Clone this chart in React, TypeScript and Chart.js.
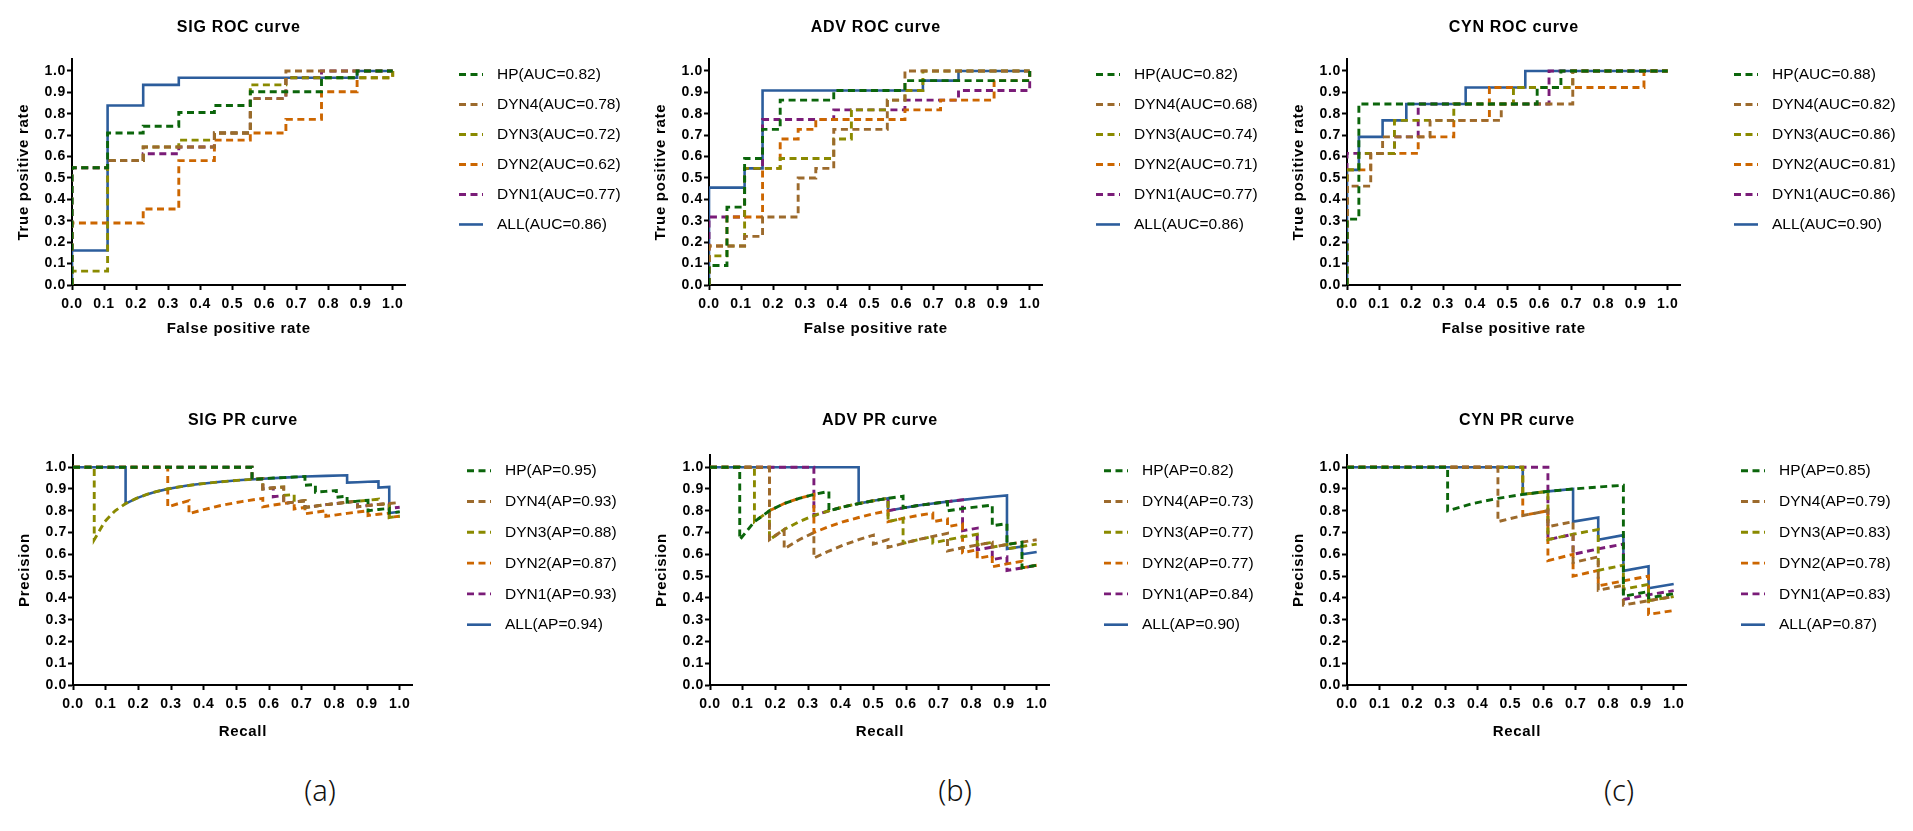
import React, { useEffect, useRef } from 'react';
import { Chart, registerables } from 'chart.js';

Chart.register(...registerables);

// ---------- shared labels / styles ----------
const seriesNames = ['HP', 'DYN4', 'DYN3', 'DYN2', 'DYN1', 'ALL'];
const seriesColors = ['#0b650b', '#9c6a2c', '#8a8a00', '#cc6600', '#7a1c78', '#2c5d9c'];
const tickValues = [0, 0.1, 0.2, 0.3, 0.4, 0.5, 0.6, 0.7, 0.8, 0.9, 1.0];
const panelLetters = ['(a)', '(b)', '(c)'];

// ---------- scores shown in legends ----------
const sigRocAuc = [0.82, 0.78, 0.72, 0.62, 0.77, 0.86];
const advRocAuc = [0.82, 0.68, 0.74, 0.71, 0.77, 0.86];
const cynRocAuc = [0.88, 0.82, 0.86, 0.81, 0.86, 0.90];
const sigPrAp = [0.95, 0.93, 0.88, 0.87, 0.93, 0.94];
const advPrAp = [0.82, 0.73, 0.77, 0.77, 0.84, 0.90];
const cynPrAp = [0.85, 0.79, 0.83, 0.78, 0.83, 0.87];

// ---------- SIG ROC (fpr, tpr) at the top of each step ----------
const sigRocHP = [[0, 0], [0, 0.548], [0.111, 0.710], [0.222, 0.742], [0.333, 0.806], [0.444, 0.839], [0.556, 0.903], [0.778, 0.968], [0.889, 1], [1, 1]];
const sigRocDYN4 = [[0, 0], [0, 0.548], [0.111, 0.581], [0.222, 0.645], [0.444, 0.710], [0.556, 0.871], [0.667, 1], [1, 1]];
const sigRocDYN3 = [[0, 0], [0, 0.065], [0.111, 0.581], [0.222, 0.645], [0.333, 0.677], [0.444, 0.710], [0.556, 0.935], [0.667, 0.968], [1, 1]];
const sigRocDYN2 = [[0, 0], [0, 0.290], [0.222, 0.355], [0.333, 0.581], [0.444, 0.677], [0.556, 0.710], [0.667, 0.774], [0.778, 0.903], [0.889, 0.968], [1, 1]];
const sigRocDYN1 = [[0, 0], [0, 0.548], [0.111, 0.581], [0.222, 0.613], [0.333, 0.645], [0.444, 0.710], [0.556, 0.871], [0.667, 0.968], [0.778, 1], [1, 1]];
const sigRocALL = [[0, 0], [0, 0.161], [0.111, 0.839], [0.222, 0.935], [0.333, 0.968], [0.889, 1], [1, 1]];

// ---------- ADV ROC ----------
const advRocHP = [[0, 0], [0, 0.091], [0.056, 0.364], [0.111, 0.591], [0.167, 0.727], [0.222, 0.864], [0.389, 0.909], [0.611, 0.955], [1, 1]];
const advRocDYN4 = [[0, 0], [0, 0.182], [0.111, 0.227], [0.167, 0.318], [0.278, 0.5], [0.333, 0.545], [0.389, 0.727], [0.556, 0.864], [0.611, 1], [1, 1]];
const advRocDYN3 = [[0, 0], [0, 0.136], [0.056, 0.182], [0.111, 0.545], [0.222, 0.591], [0.389, 0.682], [0.444, 0.818], [0.556, 0.864], [0.611, 0.909], [0.667, 1], [1, 1]];
const advRocDYN2 = [[0, 0], [0, 0.182], [0.056, 0.318], [0.167, 0.545], [0.222, 0.682], [0.278, 0.727], [0.333, 0.773], [0.611, 0.818], [0.722, 0.864], [0.889, 0.955], [1, 1]];
const advRocDYN1 = [[0, 0], [0, 0.318], [0.111, 0.545], [0.167, 0.773], [0.389, 0.818], [0.611, 0.864], [0.778, 0.909], [1, 1]];
const advRocALL = [[0, 0], [0, 0.455], [0.111, 0.545], [0.167, 0.909], [0.667, 0.955], [0.778, 1], [1, 1]];

// ---------- CYN ROC ----------
const cynRocHP = [[0, 0], [0, 0.308], [0.037, 0.846], [0.593, 0.923], [0.667, 1], [1, 1]];
const cynRocDYN4 = [[0, 0], [0, 0.462], [0.074, 0.615], [0.111, 0.692], [0.259, 0.769], [0.481, 0.846], [0.704, 1], [1, 1]];
const cynRocDYN3 = [[0, 0], [0, 0.538], [0.037, 0.615], [0.148, 0.769], [0.333, 0.846], [0.519, 0.923], [0.704, 1], [1, 1]];
const cynRocDYN2 = [[0, 0], [0, 0.538], [0.074, 0.615], [0.222, 0.692], [0.333, 0.769], [0.444, 0.923], [0.926, 1], [1, 1]];
const cynRocDYN1 = [[0, 0], [0, 0.615], [0.148, 0.692], [0.222, 0.846], [0.630, 1], [1, 1]];
const cynRocALL = [[0, 0], [0, 0.538], [0.037, 0.692], [0.111, 0.769], [0.185, 0.846], [0.370, 0.923], [0.556, 1], [1, 1]];

// ---------- SIG PR (recall, precision) ----------
const sigPrHP = [[0, 1], [0.548, 1], [0.548, 0.944], [0.581, 0.947], [0.613, 0.950], [0.645, 0.952], [0.677, 0.955], [0.710, 0.957], [0.710, 0.917], [0.742, 0.920], [0.742, 0.885], [0.774, 0.889], [0.806, 0.893], [0.806, 0.862], [0.839, 0.867], [0.839, 0.839], [0.871, 0.844], [0.903, 0.848], [0.903, 0.800], [0.935, 0.806], [0.968, 0.811], [0.968, 0.789], [1, 0.795]];
const sigPrDYN4 = [[0, 1], [0.548, 1], [0.548, 0.944], [0.581, 0.947], [0.581, 0.900], [0.613, 0.905], [0.645, 0.909], [0.645, 0.833], [0.677, 0.840], [0.710, 0.846], [0.710, 0.815], [0.742, 0.821], [0.774, 0.828], [0.806, 0.833], [0.839, 0.839], [0.871, 0.844], [0.871, 0.818], [0.903, 0.824], [0.935, 0.829], [0.968, 0.833], [1, 0.838]];
const sigPrDYN3 = [[0, 1], [0.065, 1], [0.065, 0.667], [0.097, 0.750], [0.129, 0.800], [0.161, 0.833], [0.194, 0.857], [0.226, 0.875], [0.258, 0.889], [0.290, 0.900], [0.323, 0.909], [0.387, 0.923], [0.452, 0.933], [0.516, 0.941], [0.581, 0.947], [0.581, 0.900], [0.613, 0.905], [0.645, 0.909], [0.645, 0.870], [0.677, 0.875], [0.677, 0.840], [0.710, 0.846], [0.710, 0.815], [0.742, 0.821], [0.774, 0.828], [0.806, 0.833], [0.839, 0.839], [0.871, 0.844], [0.903, 0.848], [0.935, 0.853], [0.935, 0.829], [0.968, 0.833], [0.968, 0.769], [1, 0.775]];
const sigPrDYN2 = [[0, 1], [0.290, 1], [0.290, 0.818], [0.323, 0.833], [0.355, 0.846], [0.355, 0.786], [0.387, 0.800], [0.452, 0.824], [0.516, 0.842], [0.581, 0.857], [0.581, 0.818], [0.613, 0.826], [0.677, 0.840], [0.677, 0.808], [0.710, 0.815], [0.710, 0.786], [0.742, 0.793], [0.774, 0.800], [0.774, 0.774], [0.806, 0.781], [0.839, 0.788], [0.871, 0.794], [0.903, 0.800], [0.903, 0.778], [0.935, 0.784], [0.968, 0.789], [0.968, 0.769], [1, 0.775]];
const sigPrDYN1 = [[0, 1], [0.548, 1], [0.548, 0.944], [0.581, 0.947], [0.581, 0.900], [0.613, 0.905], [0.613, 0.864], [0.645, 0.870], [0.645, 0.833], [0.677, 0.840], [0.710, 0.846], [0.710, 0.815], [0.742, 0.821], [0.774, 0.828], [0.806, 0.833], [0.839, 0.839], [0.871, 0.844], [0.871, 0.818], [0.903, 0.824], [0.935, 0.829], [0.968, 0.833], [0.968, 0.811], [1, 0.816]];
const sigPrALL = [[0, 1], [0.161, 1], [0.161, 0.833], [0.194, 0.857], [0.226, 0.875], [0.258, 0.889], [0.290, 0.900], [0.323, 0.909], [0.355, 0.917], [0.387, 0.923], [0.452, 0.933], [0.516, 0.941], [0.581, 0.947], [0.645, 0.952], [0.710, 0.957], [0.774, 0.960], [0.839, 0.963], [0.839, 0.929], [0.871, 0.931], [0.903, 0.933], [0.935, 0.935], [0.935, 0.906], [0.968, 0.909], [0.968, 0.789], [1, 0.795]];

// ---------- ADV PR ----------
const advPrHP = [[0, 1], [0.091, 1], [0.091, 0.667], [0.136, 0.750], [0.182, 0.800], [0.227, 0.833], [0.273, 0.857], [0.318, 0.875], [0.364, 0.889], [0.364, 0.800], [0.409, 0.818], [0.455, 0.833], [0.500, 0.846], [0.545, 0.857], [0.591, 0.867], [0.591, 0.813], [0.636, 0.824], [0.682, 0.833], [0.727, 0.842], [0.727, 0.800], [0.773, 0.810], [0.818, 0.818], [0.864, 0.826], [0.864, 0.731], [0.909, 0.741], [0.909, 0.645], [0.955, 0.656], [0.955, 0.538], [1, 0.550]];
const advPrDYN4 = [[0, 1], [0.182, 1], [0.182, 0.667], [0.227, 0.714], [0.227, 0.625], [0.273, 0.667], [0.318, 0.700], [0.318, 0.583], [0.364, 0.615], [0.409, 0.643], [0.455, 0.667], [0.500, 0.688], [0.500, 0.647], [0.545, 0.667], [0.545, 0.632], [0.591, 0.650], [0.636, 0.667], [0.682, 0.682], [0.727, 0.696], [0.727, 0.615], [0.773, 0.630], [0.818, 0.643], [0.864, 0.655], [0.864, 0.633], [0.909, 0.645], [0.955, 0.656], [1, 0.667]];
const advPrDYN3 = [[0, 1], [0.136, 1], [0.136, 0.750], [0.182, 0.800], [0.182, 0.667], [0.227, 0.714], [0.273, 0.750], [0.318, 0.778], [0.364, 0.800], [0.409, 0.818], [0.455, 0.833], [0.500, 0.846], [0.545, 0.857], [0.545, 0.750], [0.591, 0.765], [0.591, 0.650], [0.636, 0.667], [0.682, 0.682], [0.682, 0.652], [0.727, 0.667], [0.773, 0.680], [0.818, 0.692], [0.818, 0.643], [0.864, 0.655], [0.864, 0.633], [0.909, 0.645], [0.909, 0.625], [0.955, 0.636], [1, 0.647]];
const advPrDYN2 = [[0, 1], [0.182, 1], [0.182, 0.800], [0.227, 0.833], [0.273, 0.857], [0.318, 0.875], [0.318, 0.700], [0.364, 0.727], [0.409, 0.750], [0.455, 0.769], [0.500, 0.786], [0.545, 0.800], [0.545, 0.750], [0.591, 0.765], [0.636, 0.778], [0.682, 0.789], [0.682, 0.750], [0.727, 0.762], [0.727, 0.727], [0.773, 0.739], [0.773, 0.607], [0.818, 0.621], [0.818, 0.581], [0.864, 0.594], [0.864, 0.543], [0.909, 0.556], [0.955, 0.568], [0.955, 0.538], [1, 0.550]];
const advPrDYN1 = [[0, 1], [0.318, 1], [0.318, 0.778], [0.364, 0.800], [0.409, 0.818], [0.455, 0.833], [0.500, 0.846], [0.545, 0.857], [0.545, 0.800], [0.591, 0.813], [0.636, 0.824], [0.682, 0.833], [0.727, 0.842], [0.773, 0.850], [0.773, 0.708], [0.818, 0.720], [0.818, 0.621], [0.864, 0.633], [0.864, 0.576], [0.909, 0.588], [0.909, 0.526], [0.955, 0.537], [1, 0.550]];
const advPrALL = [[0, 1], [0.455, 1], [0.455, 0.833], [0.500, 0.846], [0.545, 0.857], [0.545, 0.800], [0.591, 0.813], [0.636, 0.824], [0.682, 0.833], [0.727, 0.842], [0.773, 0.850], [0.818, 0.857], [0.864, 0.864], [0.909, 0.870], [0.909, 0.625], [0.955, 0.636], [0.955, 0.600], [1, 0.611]];

// ---------- CYN PR ----------
const cynPrHP = [[0, 1], [0.308, 1], [0.308, 0.800], [0.385, 0.833], [0.462, 0.857], [0.538, 0.875], [0.615, 0.889], [0.692, 0.900], [0.769, 0.909], [0.846, 0.917], [0.846, 0.407], [0.923, 0.429], [0.923, 0.400], [1, 0.419]];
const cynPrDYN4 = [[0, 1], [0.462, 1], [0.462, 0.750], [0.538, 0.778], [0.615, 0.800], [0.615, 0.727], [0.692, 0.750], [0.692, 0.563], [0.769, 0.588], [0.769, 0.435], [0.846, 0.458], [0.846, 0.367], [0.923, 0.387], [1, 0.406]];
const cynPrDYN3 = [[0, 1], [0.538, 1], [0.538, 0.875], [0.615, 0.889], [0.615, 0.667], [0.692, 0.692], [0.769, 0.714], [0.769, 0.526], [0.846, 0.550], [0.846, 0.440], [0.923, 0.462], [0.923, 0.387], [1, 0.406]];
const cynPrDYN2 = [[0, 1], [0.538, 1], [0.538, 0.778], [0.615, 0.800], [0.615, 0.571], [0.692, 0.600], [0.692, 0.500], [0.769, 0.526], [0.769, 0.455], [0.846, 0.478], [0.923, 0.500], [0.923, 0.324], [1, 0.342]];
const cynPrDYN1 = [[0, 1], [0.615, 1], [0.615, 0.667], [0.692, 0.692], [0.692, 0.600], [0.769, 0.625], [0.846, 0.647], [0.846, 0.393], [0.923, 0.414], [1, 0.433]];
const cynPrALL = [[0, 1], [0.538, 1], [0.538, 0.875], [0.615, 0.889], [0.692, 0.900], [0.692, 0.750], [0.769, 0.769], [0.769, 0.667], [0.846, 0.688], [0.846, 0.524], [0.923, 0.545], [0.923, 0.444], [1, 0.464]];

// ---------- layout of the six panels ----------
const FONT = '"Liberation Sans", Arial, Helvetica, sans-serif';
const CANVAS_W = 630;
const CANVAS_H = 345;

type PanelCfg = {
  title: string; xTitle: string; yTitle: string; metric: string;
  scores: number[]; series: number[][][]; stepped: boolean;
  left: number; top: number; unitPx: number;
  titlePad: [number, number]; xTitlePadBottom: number;
  legendDx: number; legendSpacing: number;
};

const panels: PanelCfg[] = [
  { title: 'SIG ROC curve', xTitle: 'False positive rate', yTitle: 'True positive rate', metric: 'AUC', scores: sigRocAuc,
    series: [sigRocHP, sigRocDYN4, sigRocDYN3, sigRocDYN2, sigRocDYN1, sigRocALL], stepped: true,
    left: 0, top: 0, unitPx: 320.7, titlePad: [18, 22], xTitlePadBottom: 7, legendDx: 387, legendSpacing: 30 },
  { title: 'ADV ROC curve', xTitle: 'False positive rate', yTitle: 'True positive rate', metric: 'AUC', scores: advRocAuc,
    series: [advRocHP, advRocDYN4, advRocDYN3, advRocDYN2, advRocDYN1, advRocALL], stepped: true,
    left: 637, top: 0, unitPx: 320.7, titlePad: [18, 22], xTitlePadBottom: 7, legendDx: 387, legendSpacing: 30 },
  { title: 'CYN ROC curve', xTitle: 'False positive rate', yTitle: 'True positive rate', metric: 'AUC', scores: cynRocAuc,
    series: [cynRocHP, cynRocDYN4, cynRocDYN3, cynRocDYN2, cynRocDYN1, cynRocALL], stepped: true,
    left: 1275, top: 0, unitPx: 320.7, titlePad: [18, 22], xTitlePadBottom: 7, legendDx: 387, legendSpacing: 30 },
  { title: 'SIG PR curve', xTitle: 'Recall', yTitle: 'Precision', metric: 'AP', scores: sigPrAp,
    series: [sigPrHP, sigPrDYN4, sigPrDYN3, sigPrDYN2, sigPrDYN1, sigPrALL], stepped: false,
    left: 1, top: 400, unitPx: 326.7, titlePad: [11, 25], xTitlePadBottom: 4, legendDx: 394, legendSpacing: 30.8 },
  { title: 'ADV PR curve', xTitle: 'Recall', yTitle: 'Precision', metric: 'AP', scores: advPrAp,
    series: [advPrHP, advPrDYN4, advPrDYN3, advPrDYN2, advPrDYN1, advPrALL], stepped: false,
    left: 638, top: 400, unitPx: 326.7, titlePad: [11, 25], xTitlePadBottom: 4, legendDx: 394, legendSpacing: 30.8 },
  { title: 'CYN PR curve', xTitle: 'Recall', yTitle: 'Precision', metric: 'AP', scores: cynPrAp,
    series: [cynPrHP, cynPrDYN4, cynPrDYN3, cynPrDYN2, cynPrDYN1, cynPrALL], stepped: false,
    left: 1275, top: 400, unitPx: 326.7, titlePad: [11, 25], xTitlePadBottom: 4, legendDx: 394, legendSpacing: 30.8 },
];

const letterPositions = [320, 955, 1619];

// ---------- plugins ----------
const spacingPlugin = {
  id: 'textSpacing',
  beforeDraw(chart: any) {
    (chart.ctx as any).letterSpacing = '0.7px';
  },
};

const sideLegend = {
  id: 'sideLegend',
  afterDraw(chart: any, _args: any, opts: any) {
    const { ctx, chartArea, scales } = chart;
    const y0 = scales.y.getPixelForValue(1) + 3.5;
    const x0 = chartArea.left + opts.dx;
    ctx.save();
    (ctx as any).letterSpacing = '0px';
    chart.data.datasets.forEach((ds: any, i: number) => {
      const y = y0 + i * opts.spacing;
      ctx.beginPath();
      ctx.strokeStyle = ds.borderColor;
      ctx.lineWidth = ds.borderWidth;
      ctx.lineCap = 'butt';
      ctx.setLineDash(ds.borderDash || []);
      ctx.moveTo(x0, y);
      ctx.lineTo(x0 + 24, y);
      ctx.stroke();
      ctx.setLineDash([]);
      ctx.fillStyle = '#000';
      ctx.font = `15.5px ${FONT}`;
      ctx.textAlign = 'left';
      ctx.textBaseline = 'middle';
      ctx.fillText(ds.label, x0 + 38, y + 0.5);
    });
    ctx.restore();
  },
};

function Panel({ cfg }: { cfg: PanelCfg }) {
  const ref = useRef<HTMLCanvasElement>(null);

  useEffect(() => {
    const xMax = 1.04;
    const yMax = 1.055;
    const padRight = CANVAS_W - 72 - xMax * cfg.unitPx;
    const tickFont = { family: FONT, size: 14, weight: 'bold' as const };
    const titleFont = { family: FONT, size: 15, weight: 'bold' as const };

    const chart = new Chart(ref.current as HTMLCanvasElement, {
      type: 'line',
      data: {
        datasets: cfg.series.map((pts, i) => ({
          label: `${seriesNames[i]}(${cfg.metric}=${cfg.scores[i].toFixed(2)})`,
          data: pts.map(([x, y]) => ({ x, y })),
          borderColor: seriesColors[i],
          backgroundColor: seriesColors[i],
          borderWidth: i === 5 ? 2.6 : 2.9,
          borderDash: i === 5 ? [] : [7, 4.5],
          pointRadius: 0,
          pointHoverRadius: 0,
          fill: false,
          tension: 0,
          stepped: cfg.stepped ? 'before' : false,
        })),
      },
      options: {
        animation: false,
        responsive: false,
        maintainAspectRatio: false,
        events: [],
        layout: { padding: { left: 0, right: padRight, top: 0, bottom: 0 } },
        plugins: {
          legend: { display: false },
          tooltip: { enabled: false },
          title: {
            display: true,
            text: cfg.title,
            fullSize: false,
            color: '#000',
            font: { family: FONT, size: 16, weight: 'bold' },
            padding: { top: cfg.titlePad[0], bottom: cfg.titlePad[1] },
          },
          sideLegend: { dx: cfg.legendDx, spacing: cfg.legendSpacing },
        } as any,
        scales: {
          x: {
            type: 'linear',
            min: 0,
            max: xMax,
            afterBuildTicks: (axis: any) => { axis.ticks = tickValues.map((v) => ({ value: v })); },
            afterFit: (axis: any) => { axis.height = 60; },
            ticks: {
              autoSkip: false, maxRotation: 0, minRotation: 0, padding: 6, color: '#000', font: tickFont,
              callback: (v: any) => Number(v).toFixed(1),
            },
            grid: { display: true, drawOnChartArea: false, drawTicks: true, tickLength: 5, tickWidth: 2, tickColor: '#000' },
            border: { display: true, color: '#000', width: 2 },
            title: { display: true, text: cfg.xTitle, color: '#000', font: titleFont, padding: { top: 0, bottom: cfg.xTitlePadBottom } },
          },
          y: {
            type: 'linear',
            min: 0,
            max: yMax,
            afterBuildTicks: (axis: any) => { axis.ticks = tickValues.map((v) => ({ value: v })); },
            afterFit: (axis: any) => { axis.width = 72; },
            ticks: {
              autoSkip: false, padding: 1, color: '#000', font: tickFont,
              callback: (v: any) => Number(v).toFixed(1),
            },
            grid: { display: true, drawOnChartArea: false, drawTicks: true, tickLength: 5, tickWidth: 2, tickColor: '#000' },
            border: { display: true, color: '#000', width: 2 },
            title: { display: true, text: cfg.yTitle, color: '#000', font: titleFont, padding: { top: 15, bottom: 0 } },
          },
        },
      } as any,
      plugins: [spacingPlugin, sideLegend],
    });
    return () => chart.destroy();
  }, [cfg]);

  return (
    <canvas
      ref={ref}
      width={CANVAS_W}
      height={CANVAS_H}
      style={{ position: 'absolute', left: cfg.left, top: cfg.top, width: CANVAS_W, height: CANVAS_H }}
    />
  );
}

export default function App() {
  return (
    <div style={{ position: 'absolute', left: 0, top: 0, width: 1913, height: 831, background: '#fff', overflow: 'hidden' }}>
      {panels.map((p, i) => (
        <Panel key={i} cfg={p} />
      ))}
      {panelLetters.map((t, i) => (
        <div
          key={t}
          style={{
            position: 'absolute',
            left: letterPositions[i],
            top: 789,
            transform: 'translate(-50%, -50%)',
            fontFamily: '"Noto Sans", "DejaVu Sans", sans-serif',
            fontWeight: 300,
            fontSize: 29,
            color: '#111',
            whiteSpace: 'nowrap',
          }}
        >
          {t}
        </div>
      ))}
    </div>
  );
}
